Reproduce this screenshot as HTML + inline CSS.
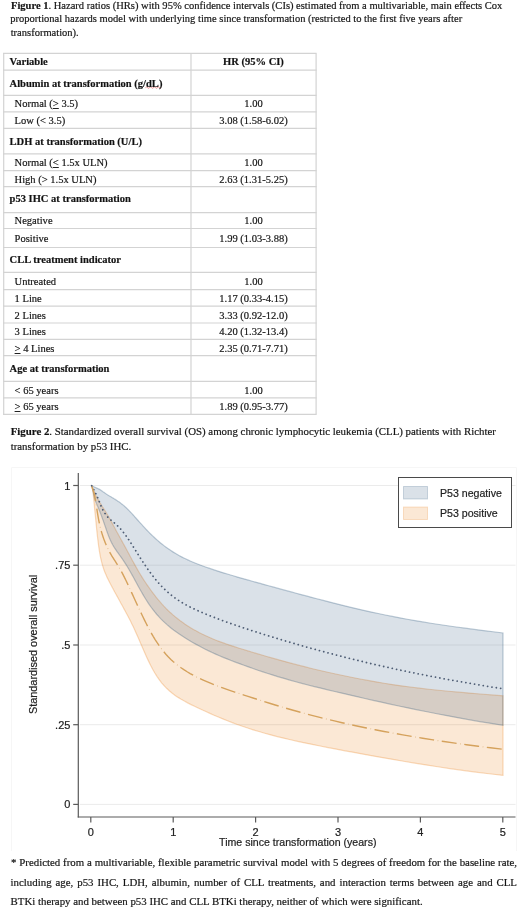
<!DOCTYPE html>
<html><head><meta charset="utf-8"><style>
html,body{margin:0;padding:0;background:#fff;}
body{width:520px;height:910px;position:relative;overflow:hidden;font-family:"Liberation Serif",serif;color:#111;}
.l,.c{-webkit-text-stroke:0.2px #222;}
.l{position:absolute;white-space:nowrap;line-height:14px;}
.cap1{font-size:10.53px;}
.cap2{font-size:10.85px;}
.fn{font-size:10.85px;}
.c{position:absolute;white-space:nowrap;font-size:10.53px;line-height:12px;}
.b{font-weight:bold;}
.r{left:191px;width:125px;text-align:center;}
u{text-decoration-thickness:0.8px;text-underline-offset:1.2px;}
.sq{}
svg{position:absolute;left:0;top:0;}
.sans{font-family:"Liberation Sans",sans-serif;}
#wrap{position:absolute;left:0;top:0;width:520px;height:910px;will-change:transform;}
</style></head><body><div id="wrap">
<div class="l cap1" style="left:11px;top:-1.4px"><b>Figure 1</b>. Hazard ratios (HRs) with 95% confidence intervals (CIs) estimated from a multivariable, main effects Cox</div>
<div class="l cap1" style="left:10.2px;top:11.9px">proportional hazards model with underlying time since transformation (restricted to the first five years after</div>
<div class="l cap1" style="left:10.7px;top:26.4px">transformation).</div>
<svg width="520" height="420" viewBox="0 0 520 420" style="top:0">
<g stroke="#d3d3d3" stroke-width="1.2" fill="none">
<line x1="3" x2="316.6" y1="53.4" y2="53.4"/>
<line x1="3" x2="316.6" y1="70.2" y2="70.2"/>
<line x1="3" x2="316.6" y1="95.4" y2="95.4"/>
<line x1="3" x2="316.6" y1="111.8" y2="111.8"/>
<line x1="3" x2="316.6" y1="128.4" y2="128.4"/>
<line x1="3" x2="316.6" y1="153.8" y2="153.8"/>
<line x1="3" x2="316.6" y1="170.7" y2="170.7"/>
<line x1="3" x2="316.6" y1="186.6" y2="186.6"/>
<line x1="3" x2="316.6" y1="212.6" y2="212.6"/>
<line x1="3" x2="316.6" y1="228.5" y2="228.5"/>
<line x1="3" x2="316.6" y1="247.5" y2="247.5"/>
<line x1="3" x2="316.6" y1="272.4" y2="272.4"/>
<line x1="3" x2="316.6" y1="289.7" y2="289.7"/>
<line x1="3" x2="316.6" y1="306.2" y2="306.2"/>
<line x1="3" x2="316.6" y1="323.0" y2="323.0"/>
<line x1="3" x2="316.6" y1="339.4" y2="339.4"/>
<line x1="3" x2="316.6" y1="355.6" y2="355.6"/>
<line x1="3" x2="316.6" y1="381.3" y2="381.3"/>
<line x1="3" x2="316.6" y1="397.9" y2="397.9"/>
<line x1="3" x2="316.6" y1="414.4" y2="414.4"/>
<line x1="3.7" x2="3.7" y1="53.4" y2="414.4"/>
<line x1="191" x2="191" y1="53.4" y2="414.4"/>
<line x1="316.1" x2="316.1" y1="53.4" y2="414.4"/>
</g><path d="M145.5,87.6 q1,-1.3 2,0 t2,0 t2,0 t2,0 t2,0 t2,0 t2,0 t1.5,0" fill="none" stroke="#e06060" stroke-width="0.7"/></svg>
<div class="c b" style="top:56.45px;left:9.6px">Variable</div>
<div class="c b r" style="top:56.45px">HR (95% CI)</div>
<div class="c b" style="top:77.65px;left:9.6px">Albumin at transformation (g/<span class=sq>dL</span>)</div>
<div class="c" style="top:98.15px;left:14.6px">Normal (<u>&gt;</u> 3.5)</div>
<div class="c r" style="top:98.15px">1.00</div>
<div class="c" style="top:114.65px;left:14.6px">Low (&lt; 3.5)</div>
<div class="c r" style="top:114.65px">3.08 (1.58-6.02)</div>
<div class="c b" style="top:135.95px;left:9.6px">LDH at transformation (U/L)</div>
<div class="c" style="top:156.95px;left:14.6px">Normal (<u>&lt;</u> 1.5x ULN)</div>
<div class="c r" style="top:156.95px">1.00</div>
<div class="c" style="top:173.85px;left:14.6px">High (&gt; 1.5x ULN)</div>
<div class="c r" style="top:173.85px">2.63 (1.31-5.25)</div>
<div class="c b" style="top:192.95px;left:9.6px">p53 IHC at transformation</div>
<div class="c" style="top:215.35px;left:14.6px">Negative</div>
<div class="c r" style="top:215.35px">1.00</div>
<div class="c" style="top:232.65px;left:14.6px">Positive</div>
<div class="c r" style="top:232.65px">1.99 (1.03-3.88)</div>
<div class="c b" style="top:253.95px;left:9.6px">CLL treatment indicator</div>
<div class="c" style="top:275.75px;left:14.6px">Untreated</div>
<div class="c r" style="top:275.75px">1.00</div>
<div class="c" style="top:292.65px;left:14.6px">1 Line</div>
<div class="c r" style="top:292.65px">1.17 (0.33-4.15)</div>
<div class="c" style="top:309.65px;left:14.6px">2 Lines</div>
<div class="c r" style="top:309.65px">3.33 (0.92-12.0)</div>
<div class="c" style="top:325.75px;left:14.6px">3 Lines</div>
<div class="c r" style="top:325.75px">4.20 (1.32-13.4)</div>
<div class="c" style="top:342.95px;left:14.6px"><u>&gt;</u> 4 Lines</div>
<div class="c r" style="top:342.95px">2.35 (0.71-7.71)</div>
<div class="c b" style="top:362.65px;left:9.6px">Age at transformation</div>
<div class="c" style="top:384.95px;left:14.6px">&lt; 65 years</div>
<div class="c r" style="top:384.95px">1.00</div>
<div class="c" style="top:400.65px;left:14.6px"><u>&gt;</u> 65 years</div>
<div class="c r" style="top:400.65px">1.89 (0.95-3.77)</div>
<div class="l cap2" style="left:10.7px;top:423.9px"><b>Figure 2</b>. Standardized overall survival (OS) among chronic lymphocytic leukemia (CLL) patients with Richter</div>
<div class="l cap2" style="left:10.7px;top:439.3px">transformation by p53 IHC.</div>
<svg width="520" height="910" viewBox="0 0 520 910">
<path d="M11.5,851 V467.5 H516.5 V851" fill="none" stroke="#f6f6f6" stroke-width="1"/>
<g stroke="#ebebeb" stroke-width="1"><line x1="80" x2="515.5" y1="804.4" y2="804.4"/><line x1="80" x2="515.5" y1="724.7" y2="724.7"/><line x1="80" x2="515.5" y1="645.0" y2="645.0"/><line x1="80" x2="515.5" y1="565.2" y2="565.2"/><line x1="80" x2="515.5" y1="485.5" y2="485.5"/></g>
<path d="M91.70,485.80 L95.50,495.00 L95.63,495.23 L95.76,495.48 L95.90,495.72 L96.04,495.97 L96.19,496.23 L96.34,496.50 L96.49,496.77 L96.65,497.05 L96.81,497.33 L96.98,497.62 L97.15,497.92 L97.33,498.23 L97.51,498.54 L97.70,498.86 L97.89,499.19 L98.09,499.53 L98.29,499.87 L98.50,500.23 L98.72,500.59 L98.94,500.96 L99.17,501.34 L99.41,501.73 L99.65,502.13 L99.90,502.54 L100.15,502.96 L100.42,503.39 L100.69,503.83 L100.97,504.28 L101.26,504.74 L101.55,505.21 L101.86,505.70 L102.17,506.20 L102.49,506.70 L102.82,507.23 L103.16,507.76 L103.51,508.32 L103.87,508.89 L104.24,509.48 L104.63,510.08 L105.02,510.71 L105.42,511.36 L105.84,512.03 L106.27,512.73 L106.71,513.46 L107.16,514.21 L107.62,514.99 L108.10,515.81 L108.60,516.67 L109.10,517.56 L109.62,518.49 L110.16,519.46 L110.71,520.47 L111.28,521.52 L111.87,522.61 L112.47,523.74 L113.09,524.90 L113.72,526.09 L114.38,527.32 L115.05,528.58 L115.74,529.87 L116.46,531.18 L117.19,532.53 L117.95,533.90 L118.72,535.31 L119.52,536.76 L120.34,538.25 L121.19,539.77 L122.06,541.35 L122.95,542.97 L123.87,544.64 L124.82,546.37 L125.80,548.16 L126.80,550.00 L127.83,551.91 L128.89,553.88 L129.98,555.92 L131.11,558.02 L132.26,560.17 L133.45,562.37 L134.67,564.60 L135.93,566.86 L137.23,569.14 L138.56,571.44 L139.93,573.75 L141.34,576.07 L142.79,578.38 L144.28,580.70 L145.82,583.02 L147.40,585.35 L149.02,587.68 L150.69,590.02 L152.42,592.36 L154.18,594.71 L156.01,597.05 L157.88,599.38 L159.81,601.68 L161.79,603.95 L163.83,606.17 L165.93,608.35 L168.09,610.48 L170.31,612.57 L172.59,614.62 L174.94,616.61 L177.36,618.57 L179.85,620.48 L182.41,622.35 L185.05,624.18 L187.76,625.96 L190.54,627.71 L193.41,629.42 L196.36,631.08 L199.40,632.71 L202.52,634.29 L205.74,635.83 L209.04,637.32 L212.44,638.78 L215.94,640.19 L219.54,641.58 L223.25,642.93 L227.06,644.26 L230.98,645.58 L235.01,646.89 L239.16,648.21 L243.43,649.53 L247.83,650.88 L252.34,652.24 L256.99,653.63 L261.78,655.04 L266.70,656.47 L271.76,657.91 L276.97,659.38 L282.33,660.86 L287.84,662.36 L293.51,663.88 L299.35,665.40 L305.35,666.93 L311.53,668.46 L317.89,669.98 L324.42,671.50 L331.15,673.02 L338.07,674.53 L345.19,676.03 L352.51,677.52 L360.05,679.00 L367.80,680.45 L375.78,681.87 L383.99,683.24 L392.43,684.55 L401.11,685.81 L410.05,687.01 L419.24,688.15 L428.70,689.23 L438.43,690.25 L448.44,691.23 L458.74,692.18 L469.34,693.11 L480.24,694.02 L491.46,694.92 L503.00,695.82 L503.00,775.38 L489.02,773.74 L475.51,772.06 L462.46,770.32 L449.85,768.54 L437.67,766.74 L425.90,764.91 L414.54,763.08 L403.55,761.26 L392.95,759.45 L382.70,757.66 L372.80,755.89 L363.23,754.16 L353.99,752.46 L345.07,750.81 L336.44,749.18 L328.11,747.59 L320.06,746.01 L312.29,744.45 L304.78,742.89 L297.52,741.33 L290.51,739.75 L283.74,738.16 L277.20,736.55 L270.88,734.91 L264.77,733.24 L258.88,731.54 L253.18,729.81 L247.67,728.05 L242.36,726.26 L237.22,724.45 L232.26,722.61 L227.46,720.76 L222.83,718.90 L218.35,717.04 L214.03,715.20 L209.86,713.37 L205.82,711.57 L201.92,709.80 L198.16,708.06 L194.52,706.33 L191.01,704.60 L187.61,702.86 L184.34,701.09 L181.17,699.27 L178.11,697.38 L175.15,695.39 L172.29,693.28 L169.54,691.01 L166.87,688.56 L164.29,685.91 L161.81,683.03 L159.40,679.91 L157.08,676.56 L154.84,672.97 L152.67,669.18 L150.58,665.21 L148.56,661.11 L146.60,656.95 L144.72,652.76 L142.89,648.61 L141.13,644.54 L139.43,640.59 L137.79,636.81 L136.20,633.20 L134.66,629.80 L133.18,626.62 L131.75,623.64 L130.37,620.85 L129.03,618.23 L127.74,615.77 L126.49,613.44 L125.29,611.22 L124.12,609.09 L123.00,607.05 L121.91,605.08 L120.86,603.17 L119.85,601.32 L118.87,599.53 L117.93,597.80 L117.01,596.13 L116.13,594.52 L115.28,592.96 L114.45,591.45 L113.66,589.98 L112.89,588.56 L112.14,587.18 L111.43,585.84 L110.73,584.53 L110.06,583.25 L109.42,582.00 L108.79,580.77 L108.19,579.55 L107.60,578.36 L107.04,577.17 L106.50,575.98 L105.97,574.80 L105.46,573.60 L104.97,572.40 L104.50,571.18 L104.04,569.95 L103.60,568.69 L103.17,567.40 L102.76,566.09 L102.36,564.75 L101.97,563.37 L101.60,561.95 L101.24,560.48 L100.89,558.97 L100.56,557.40 L100.23,555.78 L99.92,554.10 L99.62,552.37 L99.32,550.58 L99.04,548.74 L98.77,546.87 L98.50,544.95 L98.25,543.01 L98.00,541.04 L97.77,539.05 L97.54,537.06 L97.31,535.07 L97.10,533.10 L96.89,531.15 L96.69,529.22 L96.50,527.34 L96.31,525.49 L96.13,523.68 L95.96,521.93 L95.79,520.23 L95.63,518.58 L95.47,516.99 L95.32,515.46 L95.17,513.99 L95.03,512.57 L94.89,511.20 L94.76,509.88 L94.63,508.60 L94.51,507.35 L94.39,506.14 L94.28,504.97 L94.17,503.84 L94.06,502.74 L93.95,501.67 L93.85,500.64 L93.76,499.64 L93.66,498.67 L93.57,497.74 L93.49,496.86 L93.40,496.02 L93.32,495.23 L93.24,494.48 L93.16,493.78 L93.09,493.12 L93.02,492.51 L92.95,491.94 L92.89,491.41 L92.82,490.92 L92.76,490.47 L92.70,490.05 L91.70,485.80 Z" fill="#e87400" fill-opacity="0.165" stroke="#e87400" stroke-opacity="0.26" stroke-width="1.2"/>
<path d="M91.70,485.80 L100.00,489.62 L100.22,489.77 L100.44,489.93 L100.67,490.08 L100.91,490.25 L101.15,490.42 L101.40,490.59 L101.65,490.77 L101.91,490.95 L102.17,491.14 L102.45,491.33 L102.73,491.53 L103.01,491.74 L103.30,491.94 L103.60,492.16 L103.91,492.37 L104.22,492.59 L104.55,492.82 L104.88,493.05 L105.21,493.28 L105.56,493.51 L105.91,493.75 L106.28,493.99 L106.65,494.23 L107.03,494.48 L107.42,494.72 L107.82,494.98 L108.23,495.23 L108.65,495.49 L109.08,495.76 L109.52,496.02 L109.97,496.30 L110.43,496.57 L110.90,496.85 L111.39,497.14 L111.88,497.44 L112.39,497.74 L112.91,498.05 L113.45,498.36 L113.99,498.69 L114.55,499.03 L115.12,499.38 L115.71,499.75 L116.31,500.13 L116.93,500.52 L117.56,500.94 L118.21,501.38 L118.87,501.84 L119.55,502.32 L120.24,502.82 L120.95,503.36 L121.68,503.92 L122.43,504.52 L123.20,505.15 L123.98,505.81 L124.78,506.51 L125.60,507.25 L126.45,508.03 L127.31,508.86 L128.19,509.72 L129.10,510.64 L130.03,511.59 L130.98,512.60 L131.95,513.64 L132.95,514.73 L133.97,515.86 L135.01,517.03 L136.08,518.24 L137.18,519.48 L138.30,520.74 L139.46,522.04 L140.64,523.36 L141.84,524.71 L143.08,526.07 L144.35,527.45 L145.65,528.84 L146.98,530.24 L148.34,531.64 L149.74,533.05 L151.17,534.47 L152.63,535.89 L154.13,537.31 L155.67,538.72 L157.24,540.13 L158.85,541.53 L160.50,542.92 L162.20,544.29 L163.93,545.65 L165.70,546.98 L167.52,548.30 L169.39,549.60 L171.29,550.87 L173.25,552.12 L175.25,553.34 L177.30,554.54 L179.40,555.71 L181.55,556.85 L183.76,557.97 L186.01,559.06 L188.33,560.13 L190.70,561.18 L193.12,562.21 L195.61,563.23 L198.16,564.23 L200.76,565.23 L203.43,566.22 L206.17,567.20 L208.98,568.18 L211.85,569.16 L214.79,570.13 L217.80,571.11 L220.89,572.08 L224.05,573.06 L227.29,574.05 L230.60,575.04 L234.00,576.04 L237.48,577.05 L241.05,578.07 L244.70,579.10 L248.44,580.16 L252.27,581.23 L256.20,582.33 L260.22,583.45 L264.34,584.59 L268.56,585.75 L272.88,586.94 L277.31,588.15 L281.84,589.38 L286.49,590.64 L291.25,591.92 L296.12,593.23 L301.11,594.57 L306.23,595.93 L311.47,597.31 L316.83,598.72 L322.33,600.16 L327.96,601.61 L333.73,603.07 L339.64,604.56 L345.69,606.05 L351.89,607.55 L358.24,609.05 L364.74,610.55 L371.41,612.04 L378.23,613.52 L385.22,614.98 L392.38,616.42 L399.72,617.84 L407.23,619.23 L414.93,620.59 L422.82,621.92 L430.89,623.23 L439.17,624.50 L447.64,625.75 L456.32,626.98 L465.21,628.19 L474.32,629.39 L483.65,630.57 L493.21,631.75 L503.00,632.94 L503.00,725.37 L491.16,723.46 L479.67,721.54 L468.50,719.60 L457.66,717.65 L447.12,715.69 L436.89,713.73 L426.96,711.77 L417.30,709.82 L407.93,707.88 L398.82,705.97 L389.98,704.07 L381.39,702.19 L373.05,700.33 L364.95,698.49 L357.08,696.69 L349.43,694.93 L342.01,693.20 L334.80,691.50 L327.79,689.84 L320.99,688.20 L314.38,686.57 L307.97,684.96 L301.73,683.34 L295.68,681.71 L289.80,680.08 L284.09,678.44 L278.54,676.80 L273.15,675.15 L267.92,673.50 L262.84,671.85 L257.90,670.20 L253.11,668.55 L248.45,666.91 L243.93,665.29 L239.53,663.68 L235.26,662.08 L231.12,660.49 L227.09,658.91 L223.19,657.33 L219.39,655.73 L215.70,654.13 L212.12,652.50 L208.64,650.86 L205.26,649.20 L201.98,647.52 L198.79,645.83 L195.69,644.13 L192.68,642.43 L189.76,640.72 L186.92,639.01 L184.17,637.29 L181.49,635.55 L178.89,633.81 L176.37,632.04 L173.91,630.24 L171.53,628.41 L169.22,626.54 L166.97,624.62 L164.79,622.66 L162.67,620.64 L160.61,618.57 L158.61,616.44 L156.67,614.24 L154.78,611.99 L152.95,609.66 L151.17,607.27 L149.44,604.82 L147.76,602.32 L146.13,599.78 L144.55,597.21 L143.01,594.64 L141.52,592.07 L140.06,589.50 L138.65,586.96 L137.29,584.45 L135.96,582.00 L134.66,579.61 L133.41,577.31 L132.19,575.10 L131.01,572.98 L129.86,570.97 L128.74,569.06 L127.66,567.25 L126.61,565.53 L125.58,563.91 L124.59,562.37 L123.62,560.91 L122.69,559.53 L121.78,558.21 L120.89,556.96 L120.03,555.75 L119.20,554.59 L118.39,553.46 L117.60,552.36 L116.84,551.28 L116.10,550.21 L115.37,549.15 L114.67,548.08 L113.99,547.00 L113.33,545.90 L112.69,544.78 L112.07,543.63 L111.46,542.46 L110.88,541.26 L110.30,540.03 L109.75,538.78 L109.21,537.51 L108.69,536.21 L108.18,534.90 L107.69,533.57 L107.21,532.23 L106.74,530.91 L106.29,529.60 L105.85,528.31 L105.42,527.06 L105.01,525.85 L104.61,524.68 L104.22,523.55 L103.84,522.46 L103.47,521.41 L103.11,520.40 L102.76,519.43 L102.42,518.50 L102.10,517.60 L101.78,516.73 L101.47,515.90 L101.17,515.10 L100.87,514.33 L100.59,513.58 L100.31,512.87 L100.05,512.18 L99.79,511.52 L99.53,510.89 L99.29,510.28 L99.05,509.69 L98.82,509.12 L98.60,508.58 L98.38,508.05 L98.17,507.54 L97.96,507.05 L97.76,506.57 L97.57,506.11 L97.38,505.66 L97.19,505.23 L97.02,504.81 L96.84,504.40 L96.68,504.01 L96.51,503.62 L96.35,503.25 L96.20,502.88 L96.05,502.53 L95.91,502.18 L95.76,501.85 L95.63,501.52 L95.49,501.20 L95.37,500.88 L95.24,500.57 L95.12,500.27 L95.00,499.97 L91.70,485.80 Z" fill="#1a476f" fill-opacity="0.16" stroke="#1a476f" stroke-opacity="0.28" stroke-width="1.2"/>
<path d="M91.70,485.80 L95.40,492.69 L95.53,492.96 L95.66,493.23 L95.79,493.52 L95.93,493.81 L96.08,494.12 L96.22,494.44 L96.37,494.77 L96.53,495.11 L96.69,495.47 L96.85,495.84 L97.02,496.22 L97.20,496.62 L97.38,497.03 L97.56,497.46 L97.75,497.91 L97.95,498.38 L98.15,498.86 L98.36,499.36 L98.57,499.88 L98.79,500.42 L99.01,500.97 L99.25,501.55 L99.48,502.14 L99.73,502.75 L99.98,503.37 L100.24,504.01 L100.51,504.66 L100.79,505.31 L101.07,505.98 L101.36,506.65 L101.66,507.32 L101.97,507.99 L102.29,508.67 L102.62,509.33 L102.95,510.00 L103.30,510.65 L103.65,511.30 L104.02,511.94 L104.40,512.56 L104.79,513.18 L105.18,513.78 L105.60,514.38 L106.02,514.95 L106.45,515.52 L106.90,516.07 L107.36,516.61 L107.83,517.13 L108.32,517.65 L108.82,518.15 L109.34,518.64 L109.87,519.13 L110.42,519.62 L110.98,520.10 L111.56,520.59 L112.15,521.09 L112.77,521.60 L113.40,522.13 L114.05,522.67 L114.71,523.24 L115.40,523.84 L116.11,524.47 L116.83,525.13 L117.58,525.84 L118.35,526.59 L119.14,527.40 L119.96,528.26 L120.80,529.18 L121.66,530.17 L122.55,531.24 L123.46,532.38 L124.40,533.60 L125.37,534.91 L126.37,536.29 L127.39,537.77 L128.44,539.32 L129.53,540.96 L130.64,542.68 L131.79,544.47 L132.97,546.33 L134.19,548.25 L135.44,550.24 L136.73,552.28 L138.05,554.38 L139.41,556.53 L140.82,558.72 L142.26,560.95 L143.74,563.21 L145.27,565.49 L146.84,567.79 L148.46,570.09 L150.12,572.39 L151.84,574.69 L153.60,576.98 L155.41,579.24 L157.28,581.48 L159.20,583.68 L161.17,585.82 L163.20,587.92 L165.29,589.95 L167.45,591.92 L169.66,593.83 L171.94,595.67 L174.28,597.44 L176.69,599.15 L179.18,600.79 L181.73,602.39 L184.36,603.93 L187.06,605.42 L189.84,606.87 L192.71,608.29 L195.65,609.68 L198.68,611.05 L201.80,612.41 L205.01,613.75 L208.31,615.09 L211.71,616.44 L215.20,617.79 L218.80,619.15 L222.50,620.52 L226.31,621.90 L230.23,623.30 L234.26,624.71 L238.41,626.13 L242.68,627.58 L247.07,629.04 L251.59,630.51 L256.25,632.01 L261.03,633.53 L265.96,635.07 L271.02,636.64 L276.24,638.22 L281.60,639.83 L287.12,641.47 L292.80,643.13 L298.64,644.81 L304.66,646.52 L310.85,648.24 L317.21,649.99 L323.76,651.75 L330.51,653.53 L337.44,655.34 L344.58,657.16 L351.92,659.00 L359.48,660.85 L367.26,662.71 L375.26,664.58 L383.49,666.46 L391.96,668.34 L400.68,670.21 L409.64,672.09 L418.87,673.95 L428.37,675.82 L438.14,677.68 L448.19,679.53 L458.54,681.39 L469.18,683.24 L480.13,685.10 L491.40,686.95 L503.00,688.80" fill="none" stroke="#4e5d74" stroke-width="1.8" stroke-dasharray="0.01 4.4" stroke-linecap="round"/>
<path d="M91.70,485.80 L94.00,492.99 L94.09,493.40 L94.19,493.83 L94.29,494.28 L94.40,494.75 L94.50,495.26 L94.61,495.78 L94.73,496.34 L94.84,496.92 L94.96,497.54 L95.09,498.19 L95.22,498.88 L95.35,499.60 L95.49,500.37 L95.63,501.17 L95.77,502.03 L95.92,502.92 L96.08,503.87 L96.24,504.87 L96.40,505.91 L96.57,507.01 L96.75,508.14 L96.93,509.32 L97.11,510.53 L97.31,511.77 L97.51,513.02 L97.71,514.29 L97.92,515.56 L98.14,516.83 L98.36,518.10 L98.59,519.36 L98.83,520.62 L99.08,521.86 L99.33,523.10 L99.60,524.32 L99.87,525.52 L100.14,526.71 L100.43,527.89 L100.73,529.05 L101.03,530.21 L101.35,531.35 L101.68,532.48 L102.01,533.60 L102.36,534.72 L102.71,535.83 L103.08,536.94 L103.46,538.04 L103.85,539.13 L104.26,540.23 L104.68,541.32 L105.11,542.41 L105.55,543.50 L106.01,544.58 L106.48,545.66 L106.96,546.75 L107.47,547.82 L107.98,548.90 L108.52,549.97 L109.07,551.03 L109.64,552.09 L110.22,553.14 L110.83,554.19 L111.45,555.24 L112.09,556.29 L112.76,557.36 L113.44,558.45 L114.15,559.55 L114.88,560.68 L115.63,561.85 L116.40,563.06 L117.20,564.32 L118.02,565.66 L118.87,567.07 L119.75,568.56 L120.65,570.16 L121.58,571.85 L122.55,573.65 L123.54,575.56 L124.56,577.59 L125.62,579.73 L126.71,581.98 L127.83,584.35 L128.99,586.83 L130.18,589.41 L131.41,592.10 L132.68,594.88 L133.99,597.75 L135.35,600.71 L136.74,603.74 L138.18,606.85 L139.66,610.04 L141.19,613.28 L142.77,616.57 L144.40,619.90 L146.08,623.25 L147.81,626.61 L149.59,629.97 L151.44,633.29 L153.34,636.58 L155.30,639.80 L157.32,642.95 L159.40,645.99 L161.55,648.92 L163.77,651.74 L166.06,654.42 L168.42,656.97 L170.86,659.40 L173.37,661.70 L175.96,663.90 L178.63,665.99 L181.38,668.00 L184.22,669.92 L187.16,671.77 L190.18,673.55 L193.30,675.28 L196.51,676.94 L199.83,678.57 L203.25,680.15 L206.78,681.69 L210.42,683.21 L214.18,684.71 L218.05,686.19 L222.05,687.66 L226.17,689.12 L230.42,690.58 L234.80,692.06 L239.32,693.55 L243.99,695.08 L248.80,696.64 L253.76,698.23 L258.88,699.87 L264.15,701.54 L269.60,703.25 L275.21,704.99 L281.01,706.73 L286.98,708.49 L293.14,710.26 L299.50,712.04 L306.05,713.82 L312.82,715.61 L319.79,717.39 L326.99,719.17 L334.41,720.94 L342.06,722.71 L349.95,724.47 L358.09,726.23 L366.49,727.98 L375.16,729.72 L384.09,731.45 L393.31,733.17 L402.81,734.87 L412.61,736.56 L422.73,738.24 L433.16,739.89 L443.92,741.52 L455.01,743.13 L466.46,744.72 L478.26,746.28 L490.44,747.81 L503.00,749.32" fill="none" stroke="#d5a25c" stroke-width="1.4" stroke-dasharray="15 7.75" stroke-dashoffset="-0.75"/>
<path d="M91.70,485.80 L94.00,492.99 L94.09,493.40 L94.19,493.83 L94.29,494.28 L94.40,494.75 L94.50,495.26 L94.61,495.78 L94.73,496.34 L94.84,496.92 L94.96,497.54 L95.09,498.19 L95.22,498.88 L95.35,499.60 L95.49,500.37 L95.63,501.17 L95.77,502.03 L95.92,502.92 L96.08,503.87 L96.24,504.87 L96.40,505.91 L96.57,507.01 L96.75,508.14 L96.93,509.32 L97.11,510.53 L97.31,511.77 L97.51,513.02 L97.71,514.29 L97.92,515.56 L98.14,516.83 L98.36,518.10 L98.59,519.36 L98.83,520.62 L99.08,521.86 L99.33,523.10 L99.60,524.32 L99.87,525.52 L100.14,526.71 L100.43,527.89 L100.73,529.05 L101.03,530.21 L101.35,531.35 L101.68,532.48 L102.01,533.60 L102.36,534.72 L102.71,535.83 L103.08,536.94 L103.46,538.04 L103.85,539.13 L104.26,540.23 L104.68,541.32 L105.11,542.41 L105.55,543.50 L106.01,544.58 L106.48,545.66 L106.96,546.75 L107.47,547.82 L107.98,548.90 L108.52,549.97 L109.07,551.03 L109.64,552.09 L110.22,553.14 L110.83,554.19 L111.45,555.24 L112.09,556.29 L112.76,557.36 L113.44,558.45 L114.15,559.55 L114.88,560.68 L115.63,561.85 L116.40,563.06 L117.20,564.32 L118.02,565.66 L118.87,567.07 L119.75,568.56 L120.65,570.16 L121.58,571.85 L122.55,573.65 L123.54,575.56 L124.56,577.59 L125.62,579.73 L126.71,581.98 L127.83,584.35 L128.99,586.83 L130.18,589.41 L131.41,592.10 L132.68,594.88 L133.99,597.75 L135.35,600.71 L136.74,603.74 L138.18,606.85 L139.66,610.04 L141.19,613.28 L142.77,616.57 L144.40,619.90 L146.08,623.25 L147.81,626.61 L149.59,629.97 L151.44,633.29 L153.34,636.58 L155.30,639.80 L157.32,642.95 L159.40,645.99 L161.55,648.92 L163.77,651.74 L166.06,654.42 L168.42,656.97 L170.86,659.40 L173.37,661.70 L175.96,663.90 L178.63,665.99 L181.38,668.00 L184.22,669.92 L187.16,671.77 L190.18,673.55 L193.30,675.28 L196.51,676.94 L199.83,678.57 L203.25,680.15 L206.78,681.69 L210.42,683.21 L214.18,684.71 L218.05,686.19 L222.05,687.66 L226.17,689.12 L230.42,690.58 L234.80,692.06 L239.32,693.55 L243.99,695.08 L248.80,696.64 L253.76,698.23 L258.88,699.87 L264.15,701.54 L269.60,703.25 L275.21,704.99 L281.01,706.73 L286.98,708.49 L293.14,710.26 L299.50,712.04 L306.05,713.82 L312.82,715.61 L319.79,717.39 L326.99,719.17 L334.41,720.94 L342.06,722.71 L349.95,724.47 L358.09,726.23 L366.49,727.98 L375.16,729.72 L384.09,731.45 L393.31,733.17 L402.81,734.87 L412.61,736.56 L422.73,738.24 L433.16,739.89 L443.92,741.52 L455.01,743.13 L466.46,744.72 L478.26,746.28 L490.44,747.81 L503.00,749.32" fill="none" stroke="#e2bf8f" stroke-width="1.2" stroke-dasharray="0.8 21.95" stroke-dashoffset="-19.25"/>
<g stroke="#5a5a5a" stroke-width="1.2">
<line x1="78.3" x2="78.3" y1="473" y2="817.6"/>
<line x1="77.7" x2="515.5" y1="817" y2="817"/>
<line x1="73.2" x2="78.5" y1="804.4" y2="804.4"/><line x1="73.2" x2="78.5" y1="724.7" y2="724.7"/><line x1="73.2" x2="78.5" y1="645.0" y2="645.0"/><line x1="73.2" x2="78.5" y1="565.2" y2="565.2"/><line x1="73.2" x2="78.5" y1="485.5" y2="485.5"/><line x1="90.8" x2="90.8" y1="817" y2="822.5"/><line x1="173.2" x2="173.2" y1="817" y2="822.5"/><line x1="255.6" x2="255.6" y1="817" y2="822.5"/><line x1="338.0" x2="338.0" y1="817" y2="822.5"/><line x1="420.4" x2="420.4" y1="817" y2="822.5"/><line x1="502.8" x2="502.8" y1="817" y2="822.5"/>
</g>
<g class="sans" font-size="11" fill="#222" stroke="#222" stroke-width="0.2"><text x="70.4" y="808.4" text-anchor="end">0</text><text x="70.4" y="728.7" text-anchor="end">.25</text><text x="70.4" y="649.0" text-anchor="end">.5</text><text x="70.4" y="569.2" text-anchor="end">.75</text><text x="70.4" y="489.5" text-anchor="end">1</text><text x="90.8" y="835.8" text-anchor="middle">0</text><text x="173.2" y="835.8" text-anchor="middle">1</text><text x="255.6" y="835.8" text-anchor="middle">2</text><text x="338.0" y="835.8" text-anchor="middle">3</text><text x="420.4" y="835.8" text-anchor="middle">4</text><text x="502.8" y="835.8" text-anchor="middle">5</text>
<text x="297.8" y="845.8" text-anchor="middle" font-size="10.6">Time since transformation (years)</text>
<text transform="translate(36.8,644.5) rotate(-90)" text-anchor="middle" font-size="10.9">Standardised overall survival</text>
</g>
<rect x="398.5" y="477.5" width="113" height="50" fill="#fff" stroke="#4a4a4a" stroke-width="1"/>
<rect x="403.5" y="486.5" width="24" height="12.5" fill="#1a476f" fill-opacity="0.16" stroke="#1a476f" stroke-opacity="0.2"/>
<rect x="403.5" y="507" width="24" height="12.5" fill="#e87400" fill-opacity="0.165" stroke="#e87400" stroke-opacity="0.2"/>
<g class="sans" font-size="10.6" fill="#222" stroke="#222" stroke-width="0.2">
<text x="440" y="496.5">P53 negative</text>
<text x="440" y="516.7">P53 positive</text>
</g>
</svg>
<div class="l fn" style="left:11px;top:855.2px;width:506px;text-align:justify;text-align-last:justify">* Predicted from a multivariable, flexible parametric survival model with 5 degrees of freedom for the baseline rate,</div>
<div class="l fn" style="left:10.6px;top:874.8px;width:506.4px;text-align:justify;text-align-last:justify">including age, p53 IHC, LDH, albumin, number of CLL treatments, and interaction terms between age and CLL</div>
<div class="l fn" style="left:10.6px;top:893.8px">BTKi therapy and between p53 IHC and CLL BTKi therapy, neither of which were significant.</div>
</div></body></html>
